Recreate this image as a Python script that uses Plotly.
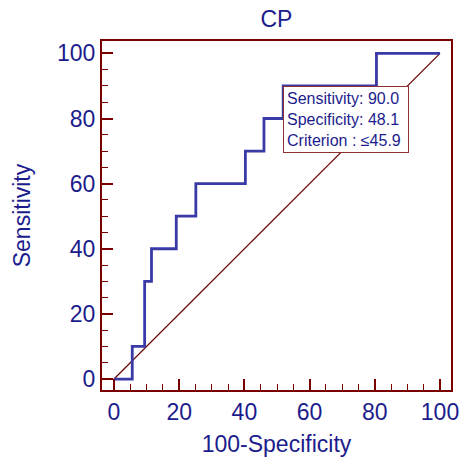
import plotly.graph_objects as go

# ROC step points (100-Specificity, Sensitivity)
fpr = [0, 5.6, 9.4, 11.5, 19.1, 25.1, 40.3, 46.0, 51.9, 80.5, 100]
sens = [0, 10, 30, 40, 50, 60, 70, 80, 90, 100, 100]
diag_x = [0, 100]
diag_y = [0, 100]
tick_vals = [0, 20, 40, 60, 80, 100]
crit_sens = 90.0
crit_spec = 48.1
crit_label = "≤45.9"

NAVY = "#1c1c8c"
MAROON = "#7a0000"
BLUE = "#3a3aa6"
FONT = "Liberation Sans, Arial, sans-serif"

fig = go.Figure()
fig.add_trace(go.Scatter(x=diag_x, y=diag_y, mode="lines",
                         line=dict(color="#6e0000", width=1.2), hoverinfo="skip"))
fig.add_trace(go.Scatter(x=fpr, y=sens, mode="lines", line_shape="hv",
                         line=dict(color=BLUE, width=2.8), hoverinfo="skip"))

fig.add_annotation(
    x=100 - crit_spec, y=crit_sens, xref="x", yref="y",
    xanchor="left", yanchor="top", showarrow=False, align="left",
    text=(f"Sensitivity: {crit_sens:.1f}<br>Specificity: {crit_spec:.1f}"
          f"<br>Criterion : {crit_label}"),
    font=dict(family=FONT, size=16, color=NAVY),
    bgcolor="white", bordercolor="#8e3030", borderwidth=1, borderpad=3,
    width=118,
)

axis_common = dict(
    tickvals=tick_vals, ticks="inside", ticklen=11, tickwidth=2,
    tickcolor=MAROON, showline=True, linecolor=MAROON, linewidth=2,
    mirror=True, showgrid=False, zeroline=False, automargin=False,
    tickfont=dict(family=FONT, size=23, color=NAVY),
    minor=dict(dtick=5, ticks="inside", ticklen=6, tickwidth=1.2,
               tickcolor=MAROON, showgrid=False),
)

fig.update_layout(
    width=460, height=463,
    margin=dict(l=102, r=9, t=41, b=73),
    paper_bgcolor="white", plot_bgcolor="white",
    showlegend=False,
    title=dict(text="CP", x=0.601, xanchor="center", y=1 - 19 / 463,
               yanchor="middle", yref="container",
               font=dict(family=FONT, size=23, color=NAVY)),
    xaxis=dict(range=[-3.68, 103.37],
               title=dict(text="100-Specificity", standoff=12,
                          font=dict(family=FONT, size=23, color=NAVY)),
               **axis_common),
    yaxis=dict(range=[-3.37, 103.8],
               title=dict(text="Sensitivity", standoff=20,
                          font=dict(family=FONT, size=23, color=NAVY)),
               **axis_common),
)

fig.write_html("out.html")
